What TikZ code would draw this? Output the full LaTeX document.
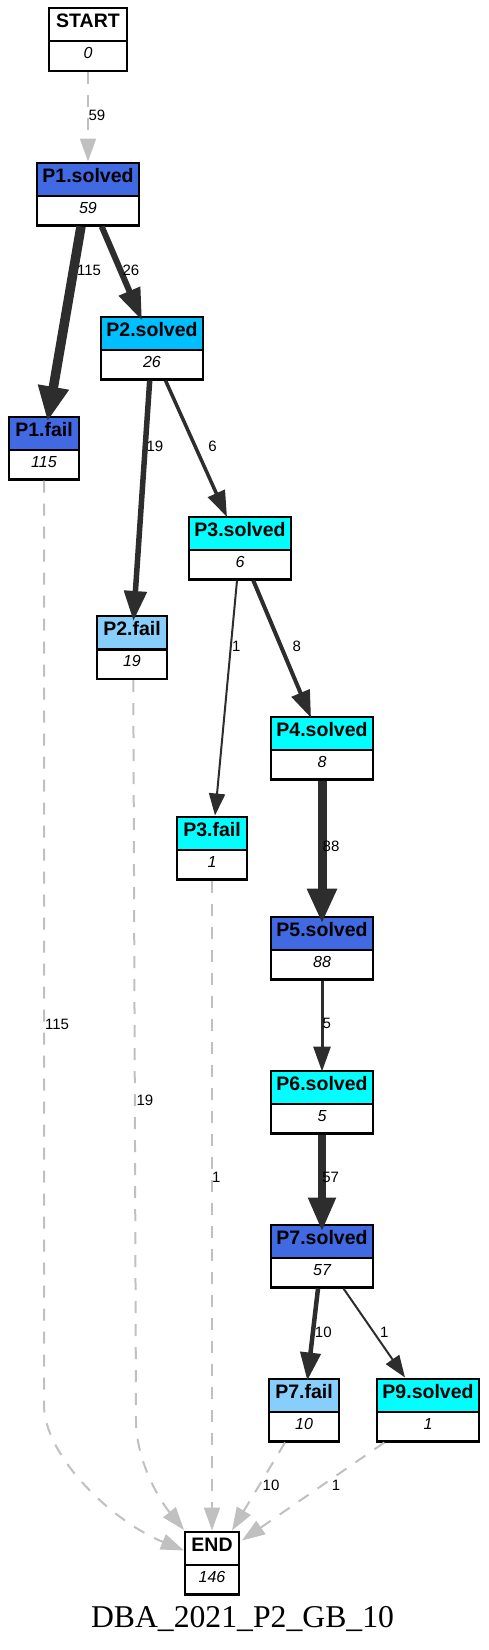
\documentclass[tikz,border=0pt]{standalone}
\usepackage{fontspec}
\newfontfamily\lsans{Liberation Sans}
\newfontfamily\lserif{Liberation Serif}
\usetikzlibrary{calc,arrows.meta}
\definecolor{gvroyal}{HTML}{4169E1}
\definecolor{gvdeepsky}{HTML}{00BFFF}
\definecolor{gvcyan}{HTML}{00FFFF}
\definecolor{gvlightsky}{HTML}{87CEFA}
\definecolor{gvedge}{HTML}{2D2D2D}
\definecolor{gvdash}{HTML}{C0C0C0}
\tikzset{
  gvframe/.style={draw=black, line width=2.2pt, inner sep=0pt, rectangle},
  gvtitle/.style={font=\lsans\bfseries\fontsize{19.5}{20}\selectfont, anchor=base, inner sep=0pt},
  gvvalue/.style={font=\lsans\itshape\fontsize{16}{18}\selectfont, anchor=base, inner sep=0pt},
  gvlabel/.style={font=\lsans\fontsize{15}{16}\selectfont, inner sep=0pt},
  gvarrow/.style n args={3}{draw=gvedge, line width=#1pt, -{Triangle[length=#2pt,width=#3pt]}},
  gvdashed/.style={draw=gvdash, line width=2pt, dash pattern=on 12pt off 11pt, -{Triangle[length=23pt,width=16pt]}},
}
\newcommand\gvbox[7]{%
  \fill[#5] (#2-#4/2+1,#3+1) rectangle (#2+#4/2-1,#3+34);
  \node[gvframe, minimum width=#4-2.2, minimum height=62.8] (#1) at (#2,#3+32) {};
  \draw[line width=2.2pt] (#2-#4/2+1,#3+34) -- (#2+#4/2-1,#3+34);
  \node[gvtitle] (#1-t) at (#2,#3+20) {#6};
  \node[gvvalue] (#1-v) at (#2,#3+51) {#7};
}
\begin{document}
\begin{tikzpicture}[x=1pt,y=-1pt]
\useasboundingbox (0,0) rectangle (488,1650);
% boxes
\gvbox{startn}{88}{7.3}{80}{white}{START}{0}
\gvbox{p1s}{88}{162}{104}{gvroyal}{P1.solved}{59}
\gvbox{p1f}{44}{416}{72}{gvroyal}{P1.fail}{115}
\gvbox{p2s}{152}{316}{104}{gvdeepsky}{P2.solved}{26}
\gvbox{p2f}{132}{615.5}{72}{gvlightsky}{P2.fail}{19}
\gvbox{p3s}{240}{516}{104}{gvcyan}{P3.solved}{6}
\gvbox{p3f}{212}{816}{72}{gvcyan}{P3.fail}{1}
\gvbox{p4s}{322}{716}{104}{gvcyan}{P4.solved}{8}
\gvbox{p5s}{322}{916}{104}{gvroyal}{P5.solved}{88}
\gvbox{p6s}{322}{1070}{104}{gvcyan}{P6.solved}{5}
\gvbox{p7s}{322}{1224}{104}{gvroyal}{P7.solved}{57}
\gvbox{p7f}{304}{1378}{72}{gvlightsky}{P7.fail}{10}
\gvbox{p9s}{428}{1378}{104}{gvcyan}{P9.solved}{1}
\gvbox{endn}{212}{1531}{56}{white}{END}{146}
% solid edges
\draw[gvarrow={9.5}{35}{29}] ($(p1s.south)+(-7,0)$) -- ($(p1f.north)+(3.5,6)$);
\draw[gvarrow={6}{32}{22}] ($(p1s.south)+(13.7,0)$) -- ($(p2s.north)+(-10,5)$);
\draw[gvarrow={5.5}{30}{22}] ($(p2s.south)+(-2.3,0)$) -- ($(p2f.north)+(1.4,6)$);
\draw[gvarrow={3.5}{26}{18}] ($(p2s.south)+(13.5,0)$) -- ($(p3s.north)+(-13,1.5)$);
\draw[gvarrow={2}{22}{16}] ($(p3s.south)+(-3,0)$) -- ($(p3f.north)+(3,0)$);
\draw[gvarrow={4}{27}{19}] ($(p3s.south)+(13.3,0)$) -- ($(p4s.north)+(-11,2.3)$);
\draw[gvarrow={9}{35}{28}] (p4s.south) -- ($(p5s.north)+(0,8)$);
\draw[gvarrow={3}{25}{17}] (p5s.south) -- ($(p6s.north)+(0,2)$);
\draw[gvarrow={8}{34}{26}] (p6s.south) -- ($(p7s.north)+(0,8)$);
\draw[gvarrow={4.5}{28}{20}] ($(p7s.south)+(-4,0)$) -- ($(p7f.north)+(3.3,3)$);
\draw[gvarrow={2}{22}{16}] ($(p7s.south)+(21.5,0)$) -- ($(p9s.north)+(-23,0)$);
% dashed edges
\draw[gvdashed] (startn.south) -- (p1s.north);
\draw[gvdashed] (p1f.south) -- (44,1405) .. controls (44,1455) and (110.5,1520.5) .. ($(endn.north west)+(0,20)$);
\draw[gvdashed] ($(p2f.south)+(1.3,0)$) -- (136,1420) .. controls (136,1460) and (158.4,1498.6) .. ($(endn.north west)+(0,-0.5)$);
\draw[gvdashed] (p3f.south) -- (endn.north);
\draw[gvdashed] ($(p7f.south)+(-19,0)$) -- ($(endn.north east)+(-8,0)$);
\draw[gvdashed] ($(p9s.south)+(-43.7,0)$) -- ($(endn.north east)+(2,10)$);
% edge labels
\node[gvlabel] (l1) at (97,115) {59};
\node[gvlabel] (l2) at (89,270) {115};
\node[gvlabel] (l3) at (131,270) {26};
\node[gvlabel] (l4) at (155,446) {19};
\node[gvlabel] (l5) at (212.5,446) {6};
\node[gvlabel] (l6) at (236.3,646) {1};
\node[gvlabel] (l7) at (296.7,646) {8};
\node[gvlabel] (l8) at (331,846) {88};
\node[gvlabel] (l9) at (326.7,1023) {5};
\node[gvlabel] (l10) at (330.7,1177) {57};
\node[gvlabel] (l11) at (323.3,1332) {10};
\node[gvlabel] (l12) at (384.3,1332) {1};
\node[gvlabel] (l13) at (57,1024) {115};
\node[gvlabel] (l14) at (145,1100) {19};
\node[gvlabel] (l15) at (216.3,1177) {1};
\node[gvlabel] (l16) at (271,1485) {10};
\node[gvlabel] (l17) at (336,1485) {1};
% title
\node[inner sep=0pt, anchor=base, font=\lserif\fontsize{31.7}{34}\selectfont] (title) at (242.5,1627) {DBA\_2021\_P2\_GB\_10};
\end{tikzpicture}
\end{document}
